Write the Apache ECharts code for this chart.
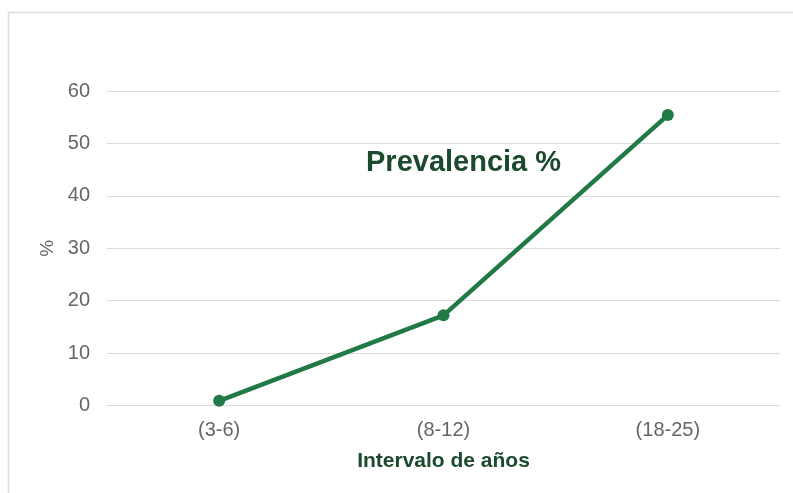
<!DOCTYPE html>
<html>
<head>
<meta charset="utf-8">
<script src="https://cdn.jsdelivr.net/npm/echarts@6/dist/echarts.min.js"></script>
<style>
  html, body { margin: 0; padding: 0; background: #fff; }
  #chart { width: 793px; height: 493px; }
</style>
</head>
<body>
<div id="chart"></div>
<script>
// Age groups and prevalence (%) per group
const categories = ['(3-6)', '(8-12)', '(18-25)'];
const prevalence = [0.9, 17.2, 55.4];
const yTicks = { min: 0, max: 60, step: 10 };

const chart = echarts.init(document.getElementById('chart'), null, { renderer: 'canvas' });

const FONT = '"Liberation Sans", Arial, sans-serif';
const GREEN = '#217a45';
const DARK_GREEN = '#1b4a2f';

chart.setOption({
  backgroundColor: '#ffffff',
  animation: false,
  graphic: [{
    type: 'rect',
    silent: true,
    shape: { x: 8.5, y: 12.5, width: 820, height: 520 },
    style: { fill: 'none', stroke: '#dcdcdc', lineWidth: 1.5 }
  }],
  title: {
    text: 'Prevalencia %',
    left: 361,
    top: 143,
    textStyle: { fontFamily: FONT, fontSize: 29, fontWeight: 'bold', color: DARK_GREEN }
  },
  grid: { left: 107, right: 13, top: 91, bottom: 87.5 },
  xAxis: {
    type: 'category',
    data: categories,
    boundaryGap: true,
    axisLine: { show: false },
    axisTick: { show: false },
    axisLabel: { fontFamily: FONT, fontSize: 20, color: '#666666', margin: 15 },
    name: 'Intervalo de años',
    nameLocation: 'middle',
    nameGap: 45,
    nameTextStyle: { fontFamily: FONT, fontSize: 21, fontWeight: 'bold', color: DARK_GREEN }
  },
  yAxis: {
    type: 'value',
    min: yTicks.min,
    max: yTicks.max,
    interval: yTicks.step,
    axisLine: { show: false },
    axisTick: { show: false },
    axisLabel: { fontFamily: FONT, fontSize: 20, color: '#666666', margin: 17 },
    splitLine: { lineStyle: { color: '#dadada', width: 1.2 } },
    name: '%',
    nameLocation: 'middle',
    nameGap: 50,
    nameRotate: 90,
    nameTextStyle: { fontFamily: FONT, fontSize: 19, color: '#666666' }
  },
  series: [{
    type: 'line',
    data: prevalence,
    symbol: 'circle',
    symbolSize: 12,
    lineStyle: { color: GREEN, width: 4.5 },
    itemStyle: { color: GREEN },
    z: 3
  }]
});
</script>
</body>
</html>
